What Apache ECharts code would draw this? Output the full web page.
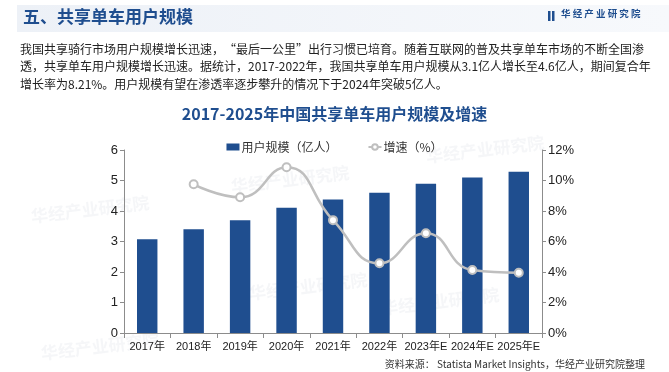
<!DOCTYPE html>
<html><head><meta charset="utf-8">
<script src="https://cdn.jsdelivr.net/npm/echarts@6/dist/echarts.min.js"></script>
<style>html,body{margin:0;padding:0;background:#fff}#c{width:669px;height:372px}</style>
</head><body><div id="c"></div>
<script>
const categories = ['2017年','2018年','2019年','2020年','2021年','2022年','2023年E','2024年E','2025年E'];
const users = [3.07, 3.40, 3.70, 4.11, 4.38, 4.60, 4.89, 5.10, 5.29];
const growth = [null, 9.75, 8.9, 10.87, 7.4, 4.57, 6.54, 4.13, 3.95];
const paragraph = [
  '我国共享骑行市场用户规模增长迅速，“最后一公里”出行习惯已培育。随着互联网的普及共享单车市场的不断全国渗',
  '透，共享单车用户规模增长迅速。据统计，2017-2022年，我国共享单车用户规模从3.1亿人增长至4.6亿人，期间复合年',
  '增长率为8.21%。用户规模有望在渗透率逐步攀升的情况下于2024年突破5亿人。'
];
const watermarks = [[30,208],[230,178],[425,148],[248,285],[380,300],[40,345]];
const FONT = '"Noto Sans CJK SC", "Liberation Sans", sans-serif';
const BLUE = '#1f4e8f';
const chart = echarts.init(document.getElementById('c'));
const graphics = [
  {type:'rect', shape:{x:17,y:5,width:652,height:27}, style:{fill:new echarts.graphic.LinearGradient(0,0,1,0,[{offset:0,color:'#edf1f7'},{offset:1,color:'#f7f9fc'}])}, z:-2},
  {type:'text', left:23, top:8, style:{text:'五、共享单车用户规模', font:'bold 17px '+FONT, fill:BLUE}},
  {type:'rect', shape:{x:548,y:11,width:2.5,height:10}, style:{fill:BLUE}},
  {type:'rect', shape:{x:552,y:11,width:2.5,height:10}, style:{fill:BLUE}},
  {type:'text', left:561, top:9, style:{text:'华 经 产 业 研 究 院', font:'bold 9.5px '+FONT, fill:BLUE}},
  {type:'text', left:'center', top:106, style:{text:'2017-2025年中国共享单车用户规模及增速', font:'bold 16px '+FONT, fill:BLUE}},
  {type:'text', right:24, top:359, style:{text:'资料来源： Statista Market Insights，华经产业研究院整理', font:'10px '+FONT, fill:'#333'}}
];
watermarks.forEach(p=>graphics.push({type:'text', x:p[0], y:p[1], rotation:0.12, z:-1,
  style:{text:'华经产业研究院', font:'bold 17px '+FONT, fill:'rgba(200,205,215,0.18)'}}));
paragraph.forEach((t,i)=>graphics.push({type:'text', left:20, top:43+i*17.5, style:{text:t, font:'12px '+FONT, fill:'#222'}}));
chart.setOption({
  animation:false,
  textStyle:{fontFamily:FONT},
  graphic:graphics,
  legend:{top:136, left:'center', itemGap:30, itemWidth:13, itemHeight:7,
    textStyle:{fontSize:12, color:'#333', fontFamily:FONT, padding:[0,0,0,-3]},
    data:[{name:'用户规模（亿人）', icon:'rect'},{name:'增速（%）'}]},
  grid:{left:124, right:127, top:150, bottom:39},
  xAxis:{type:'category', data:categories,
    axisLine:{lineStyle:{color:'#8c8c8c'}},
    axisTick:{show:true, alignWithLabel:false, length:5, lineStyle:{color:'#8c8c8c'}},
    axisLabel:{fontSize:11, color:'#222', fontFamily:'"Liberation Sans", "Noto Sans CJK SC", sans-serif', margin:8, interval:0}},
  yAxis:[
    {type:'value', min:0, max:6, interval:1, position:'left',
      axisLine:{show:true, lineStyle:{color:'#8c8c8c'}},
      axisTick:{show:true, length:4, lineStyle:{color:'#8c8c8c'}},
      splitLine:{show:false},
      axisLabel:{fontSize:13, color:'#222', fontFamily:'"Liberation Sans", sans-serif', margin:6}},
    {type:'value', min:0, max:12, interval:2, position:'right',
      axisLine:{show:true, lineStyle:{color:'#8c8c8c'}},
      axisTick:{show:true, length:4, lineStyle:{color:'#8c8c8c'}},
      splitLine:{show:false},
      axisLabel:{fontSize:13, color:'#222', fontFamily:'"Liberation Sans", sans-serif', margin:6, formatter:'{value}%'}}
  ],
  series:[
    {name:'用户规模（亿人）', type:'bar', data:users, barWidth:'44%', itemStyle:{color:BLUE}},
    {name:'增速（%）', type:'line', yAxisIndex:1, data:growth, smooth:0.5,
      symbol:'circle', symbolSize:8, showSymbol:true,
      lineStyle:{color:'#bfbfbf', width:2.5},
      itemStyle:{color:'#fff', borderColor:'#bfbfbf', borderWidth:2}}
  ]
});
</script></body></html>
